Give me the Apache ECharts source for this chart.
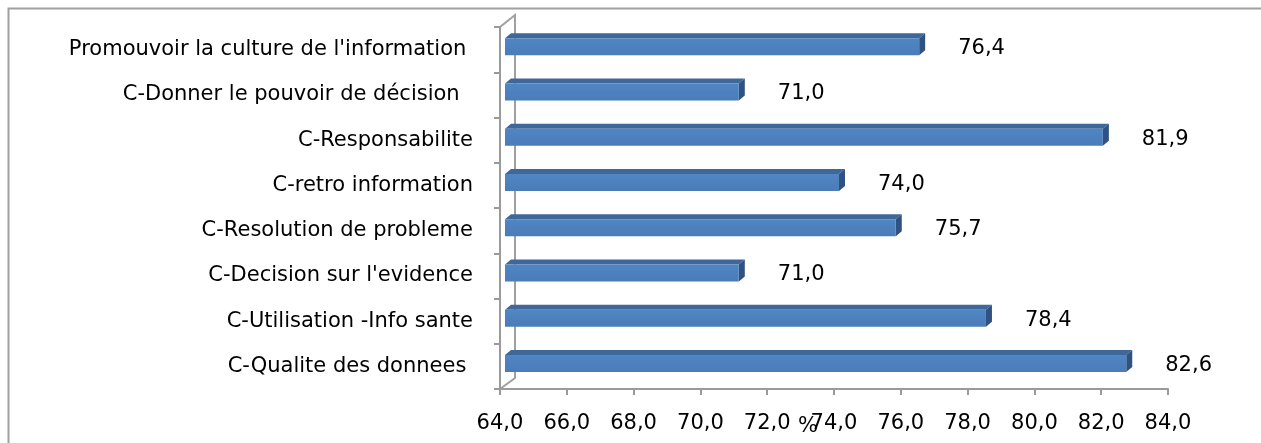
<!DOCTYPE html>
<html>
<head>
<meta charset="utf-8">
<script src="https://cdn.jsdelivr.net/npm/echarts@6/dist/echarts.min.js"></script>
<style>
html,body{margin:0;padding:0;background:#fff;overflow:hidden;}
#chart{width:1261px;height:443px;}
</style>
</head>
<body>
<div id="chart"></div>
<script>
// Data (top to bottom)
var categories = [
  "Promouvoir la culture de l'information ",
  "C-Donner le pouvoir de décision  ",
  "C-Responsabilite",
  "C-retro information",
  "C-Resolution de probleme",
  "C-Decision sur l'evidence",
  "C-Utilisation -Info sante",
  "C-Qualite des donnees "
];
var values = [76.4, 71.0, 81.9, 74.0, 75.7, 71.0, 78.4, 82.6];
var xTicks = {min: 64, max: 84, interval: 2};
var axisName = "%";

function fmt(v){ return v.toFixed(1).replace('.', ','); }

var FONT = '21px "DejaVu Sans"';

function renderItem(params, api) {
  var cat = api.value(0);
  var v = api.value(1);
  var start = api.coord([xTicks.min, cat]);
  var end = api.coord([v, cat]);
  var h = 17, d = 6, dv = 5, sh = 5;
  var cy = start[1] - 3;
  var x0 = start[0] + sh, x1 = end[0] + sh;
  var y0 = cy - h / 2, y1 = cy + h / 2;
  return {
    type: 'group',
    children: [
      {type: 'polygon', shape: {points: [[x0, y0], [x0 + d, y0 - dv], [x1 + d, y0 - dv], [x1, y0]]},
        style: {fill: '#3F6797'}},
      {type: 'polygon', shape: {points: [[x1, y0], [x1 + d, y0 - dv], [x1 + d, y1 - dv], [x1, y1]]},
        style: {fill: '#2F5282'}},
      {type: 'rect', shape: {x: x0, y: y0, width: x1 - x0, height: h},
        style: {fill: new echarts.graphic.LinearGradient(0, 0, 0, 1, [
          {offset: 0, color: '#5086C4'}, {offset: 1, color: '#4A7CB8'}])}},
      {type: 'text', style: {text: fmt(v), x: x1 + d + 33, y: cy + 2, font: FONT, fill: '#000',
        verticalAlign: 'middle', align: 'left'}}
    ]
  };
}

var chart = echarts.init(document.getElementById('chart'));
chart.setOption({
  animation: false,
  backgroundColor: '#fff',
  grid: {left: 500, right: 93, top: 27, bottom: 54, containLabel: false, outerBoundsMode: 'none'},
  xAxis: {
    type: 'value', min: xTicks.min, max: xTicks.max, interval: xTicks.interval,
    name: axisName, nameLocation: 'middle', nameGap: 27, nameMoveOverlap: false,
    nameTextStyle: {fontFamily: 'DejaVu Sans', fontSize: 21, color: '#000', padding: [0, 52, 0, 0]},
    axisLine: {show: true, lineStyle: {color: '#9A9A9A', width: 2}},
    axisTick: {show: true, length: 6, lineStyle: {color: '#9A9A9A', width: 2}},
    splitLine: {show: false},
    axisLabel: {margin: 24, fontFamily: 'DejaVu Sans', fontSize: 21, color: '#000',
      formatter: function (v) { return fmt(v); }}
  },
  yAxis: {
    type: 'category', inverse: true, data: categories,
    axisLine: {show: true, lineStyle: {color: '#9A9A9A', width: 2}},
    axisTick: {show: true, length: 6, lineStyle: {color: '#9A9A9A', width: 2}},
    axisLabel: {margin: 27, fontFamily: 'DejaVu Sans', fontSize: 21, color: '#000'},
    splitLine: {show: false}
  },
  graphic: [
    {type: 'polyline', shape: {points: [[8.5, 450], [8.5, 8.5], [1270, 8.5]]}, style: {stroke: '#A0A0A0', lineWidth: 2, fill: null}, z: -1},
    {type: 'polyline', shape: {points: [[500, 27], [515, 15], [515, 378], [500, 389]]}, style: {stroke: '#A0A0A0', lineWidth: 2, fill: null}, z: -1}
  ],
  series: [{
    type: 'custom',
    renderItem: renderItem,
    encode: {x: 1, y: 0},
    data: values.map(function (v, i) { return [i, v]; }),
    z: 5
  }]
});
</script>
</body>
</html>
